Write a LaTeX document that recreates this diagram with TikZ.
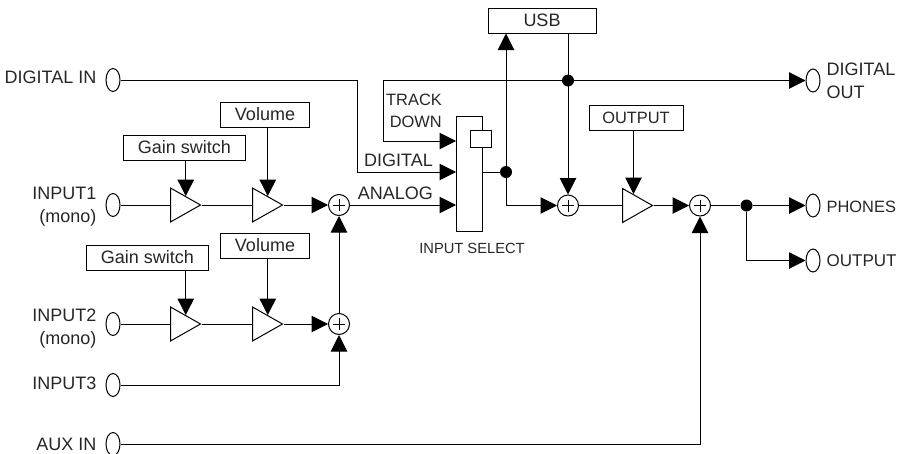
\documentclass[tikz,border=0pt]{standalone}
\usepackage{fontspec}
\setmainfont{Liberation Sans}
\usetikzlibrary{shapes,arrows.meta,positioning,calc}
\newcommand{\lblfont}{\fontsize{18}{23}\selectfont}
\newcommand{\smallfont}{\fontsize{16.4}{22}\selectfont}
\tikzset{
    block/.style={rectangle, draw, fill=white, minimum height=25pt, inner sep=0pt, font=\lblfont, text=black!85, line width=1pt},
    port/.style={ellipse, draw, fill=white, minimum width=14pt, minimum height=23pt, inner sep=0pt, line width=1pt},
    amp/.style={isosceles triangle, isosceles triangle apex angle=59, isosceles triangle stretches, draw, fill=white, minimum width=34pt, minimum height=30pt, inner sep=0pt, line width=1pt},
    sum/.style={circle, draw, fill=white, minimum size=21pt, inner sep=0pt, line width=1pt,
        path picture={\draw [line width=0.7pt] ($(path picture bounding box.center)+(-6,0)$) -- ($(path picture bounding box.center)+(6,0)$) ($(path picture bounding box.center)+(0,-6)$) -- ($(path picture bounding box.center)+(0,6)$);}},
    dot/.style={circle, fill=black, minimum size=12pt, inner sep=0pt},
    lbl/.style={inner sep=0pt, font=\lblfont, text=black!85},
    line/.style={draw, -{Triangle[length=16.5pt, width=16.5pt]}, line width=1pt},
    wire/.style={draw, line width=1pt}
}
\begin{document}
\begin{tikzpicture}[x=1pt, y=-1pt]
    \useasboundingbox (0,0) rectangle (902,453);
    \node [port] (digin) at (113,80) {};
    \node [port] (inputone) at (113,205) {};
    \node [port] (inputtwo) at (113,324) {};
    \node [port] (inputthree) at (113,385) {};
    \node [port] (auxin) at (113,444) {};
    \node [amp, right of=inputone, node distance=57pt, anchor=lower side] (ampone) {};
    \node [amp, right of=inputone, node distance=139pt, anchor=lower side] (ampb) {};
    \node [amp, right of=inputtwo, node distance=57pt, anchor=lower side] (amptwo) {};
    \node [amp, right of=inputtwo, node distance=139pt, anchor=lower side] (ampd) {};
    \node [sum, right of=inputone, node distance=226pt] (sumone) {};
    \node [sum, right of=inputtwo, node distance=226pt] (sumtwo) {};
    \node [block, minimum width=122pt] (gainone) at (184.5,147.5) {Gain switch};
    \node [block, minimum width=89pt] (volone) at (265,114.5) {Volume};
    \node [block, minimum width=122pt] (gaintwo) at (147.5,257.5) {Gain switch};
    \node [block, minimum width=89pt] (voltwo) at (265,245.5) {Volume};
    \node [rectangle, draw, fill=white, minimum width=26pt, minimum height=115pt, inner sep=0pt, line width=1pt] (select) at (469,173.5) {};
    \node [rectangle, draw, fill=white, minimum width=21pt, minimum height=17pt, inner sep=0pt, line width=1pt] (selbox) at (480.5,138.5) {};
    \coordinate (seltrack) at (456,141);
    \coordinate (seldig) at (456,172);
    \coordinate (selana) at (456,205);
    \coordinate (digkink) at (357,172);
    \coordinate (trackkink) at (383,141);
    \node [dot] (dotsel) at (506,172) {};
    \node [block, minimum width=108pt] (usb) at (542,20.5) {USB};
    \node [sum] (sumthree) at (568,205.5) {};
    \node [dot] (dotusb) at (568,80.5) {};
    \node [amp, right of=sumthree, node distance=54pt, anchor=lower side] (ampc) {};
    \node [block, minimum width=94pt, font=\smallfont] (outbox) at (636,117.5) {OUTPUT};
    \coordinate (ampctop) at (633.5,194);
    \node [sum, right of=sumthree, node distance=132pt] (sumfour) {};
    \node [dot, right of=sumfour, node distance=46.5pt] (dotout) {};
    \node [port] (digout) at (813,80.5) {};
    \node [port, right of=dotout, node distance=66.5pt] (phones) {};
    \node [port, below of=phones, node distance=55pt] (output) {};

    \node [lbl, left=9pt of digin, yshift=3pt] (digintxt) {DIGITAL IN};
    \node [lbl, left=9pt of inputone, yshift=-2pt, align=right] (inputonetxt) {INPUT1\\(mono)};
    \node [lbl, left=9pt of inputtwo, yshift=-4.5pt, align=right] (inputtwotxt) {INPUT2\\(mono)};
    \node [lbl, left=9pt of inputthree, yshift=2pt] (inputthreetxt) {INPUT3};
    \node [lbl, left=9pt of auxin] (auxtxt) {AUX IN};
    \node [lbl, font=\smallfont, align=right, anchor=east] (tracktxt) at (442,111) {TRACK\\DOWN};
    \node [lbl, anchor=east] (digtxt) at (433,160) {DIGITAL};
    \node [lbl, anchor=east] (anatxt) at (433,193) {ANALOG};
    \node [lbl, font=\fontsize{14.7}{18}\selectfont] (seltxt) at (472,248) {INPUT SELECT};
    \node [lbl, right=6pt of digout, align=left] (digouttxt) {DIGITAL\\OUT};
    \node [lbl, font=\smallfont, right=6pt of phones, yshift=-1.5pt] (phonestxt) {PHONES};
    \node [lbl, font=\fontsize{17}{22}\selectfont, right=6pt of output] (outputtxt) {OUTPUT};

    \path [wire] (inputone) -- (ampone.lower side);
    \path [wire] (ampone.apex) -- (ampb.lower side);
    \path [line] (ampb.apex) -- (sumone);
    \path [wire] (inputtwo) -- (amptwo.lower side);
    \path [wire] (amptwo.apex) -- (ampd.lower side);
    \path [line] (ampd.apex) -- (sumtwo);
    \path [line] (gainone.south -| ampone.left side) -- (ampone.left side);
    \path [line] (volone.south -| ampb.left side) -- (ampb.left side);
    \path [line] (gaintwo.south -| amptwo.left side) -- (amptwo.left side);
    \path [line] (voltwo.south -| ampd.left side) -- (ampd.left side);
    \path [line] (sumtwo) -- (sumone);
    \path [line] (inputthree) -| (sumtwo);
    \path [line] (sumone) -- (selana);
    \path [wire] (digin) -| (digkink);
    \path [line] (digkink) -- (seldig);
    \path [line] (dotusb) -| (trackkink) -- (seltrack);
    \path [wire] (select.east |- dotsel) -- (dotsel);
    \path [line] (dotsel) -- (dotsel |- usb.south);
    \path [line] (dotsel) |- (sumthree);
    \path [line] (sumthree |- usb.south) -- (sumthree);
    \path [line] (dotusb) -- (digout);
    \path [wire] (sumthree) -- (ampc.lower side);
    \path [line] (ampc.apex) -- (sumfour);
    \path [line] (ampctop |- outbox.south) -- (ampctop);
    \path [line] (auxin) -| (sumfour);
    \path [wire] (sumfour) -- (dotout);
    \path [line] (dotout) -- (phones);
    \path [line] (dotout) |- (output);
\end{tikzpicture}
\end{document}
